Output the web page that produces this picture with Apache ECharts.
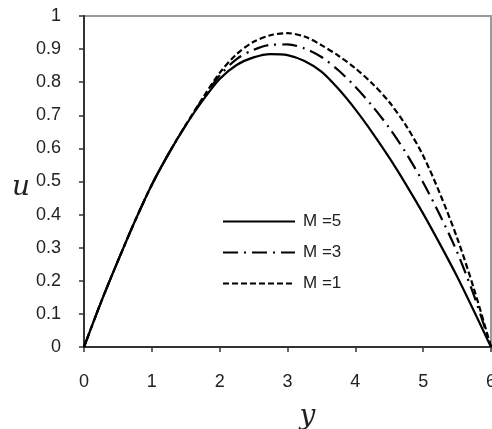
<!DOCTYPE html>
<html>
<head>
<meta charset="utf-8">
<script src="https://cdn.jsdelivr.net/npm/echarts@6/dist/echarts.min.js"></script>
<style>
html,body{margin:0;padding:0;background:#fff;}
#chart{width:492px;height:429px;}
</style>
</head>
<body>
<div id="chart"></div>
<script>
const yValues = [0,0.25,0.5,0.75,1,1.25,1.5,1.75,2,2.25,2.5,2.75,3,3.25,3.5,3.75,4,4.25,4.5,4.75,5,5.25,5.5,5.75,6];
const uM5 = [0,0.135,0.26,0.38,0.49,0.585,0.67,0.745,0.81,0.852,0.875,0.885,0.882,0.864,0.832,0.78,0.718,0.648,0.572,0.49,0.403,0.31,0.213,0.108,0];
const uM3 = [0,0.135,0.26,0.38,0.49,0.585,0.67,0.75,0.82,0.87,0.898,0.913,0.914,0.902,0.876,0.836,0.786,0.728,0.662,0.585,0.497,0.397,0.287,0.155,0];
const uM1 = [0,0.135,0.26,0.38,0.49,0.585,0.671,0.752,0.828,0.885,0.922,0.942,0.948,0.938,0.912,0.88,0.842,0.796,0.74,0.668,0.578,0.462,0.33,0.175,0];
const seriesNames = ['M =5','M =3','M =1'];
const xTicks = [0,1,2,3,4,5,6];
const yTicks = [0,0.1,0.2,0.3,0.4,0.5,0.6,0.7,0.8,0.9,1];
const xAxisName = 'y';
const yAxisName = 'u';

const pair = (arr) => yValues.map((y,i)=>[y,arr[i]]);
const chart = echarts.init(document.getElementById('chart'));
const font = 'Liberation Sans, Arial, sans-serif';
const serif = '"DejaVu Serif", "Liberation Serif", serif';
chart.setOption({
  backgroundColor:'#fff',
  animation:false,
  color:['#000','#000','#000'],
  grid:{left:84,right:1,top:16,bottom:82,containLabel:false,outerBoundsMode:'none',show:true,borderColor:'#9a9a9a',borderWidth:2,backgroundColor:'transparent'},
  legend:{
    orient:'vertical',left:222,top:213,padding:0,itemWidth:72,itemHeight:14,itemGap:14,
    itemStyle:{opacity:0},
    textStyle:{fontFamily:font,fontSize:17,color:'#222',padding:[0,0,0,3]},
    data:seriesNames
  },
  graphic:[
    {type:'text',left:12,top:174,style:{text:yAxisName,fontFamily:serif,fontStyle:'italic',fontSize:28,fill:'#222'}}
  ],
  xAxis:{
    type:'value',min:xTicks[0],max:xTicks[xTicks.length-1],interval:1,
    name:xAxisName,nameLocation:'middle',nameGap:56,
    nameTextStyle:{fontFamily:serif,fontStyle:'italic',fontSize:28,color:'#222',padding:[0,0,0,40]},
    axisLine:{show:true,lineStyle:{color:'#333',width:2}},
    axisTick:{show:true,inside:false,length:5,lineStyle:{color:'#333',width:1.5}},
    axisLabel:{fontFamily:font,fontSize:18,color:'#222',margin:26},
    splitLine:{show:false}
  },
  yAxis:{
    type:'value',min:yTicks[0],max:yTicks[yTicks.length-1],interval:0.1,
    axisLine:{show:true,lineStyle:{color:'#333',width:2}},
    axisTick:{show:true,inside:false,length:5,lineStyle:{color:'#333',width:1.5}},
    axisLabel:{fontFamily:font,fontSize:18,color:'#222',margin:23,formatter:(v)=>String(Math.round(v*10)/10)},
    splitLine:{show:false}
  },
  series:[
    {name:seriesNames[0],type:'line',data:pair(uM5),smooth:0.3,symbol:'none',itemStyle:{color:'#000'},lineStyle:{color:'#000',width:2.2,type:'solid'},z:3},
    {name:seriesNames[1],type:'line',data:pair(uM3),smooth:0.3,symbol:'none',itemStyle:{color:'#000'},lineStyle:{color:'#000',width:2.2,type:[15,6,2,6]},z:2},
    {name:seriesNames[2],type:'line',data:pair(uM1),smooth:0.3,symbol:'none',itemStyle:{color:'#000'},lineStyle:{color:'#000',width:2.2,type:[6,3]},z:1}
  ]
});
</script>
</body>
</html>
